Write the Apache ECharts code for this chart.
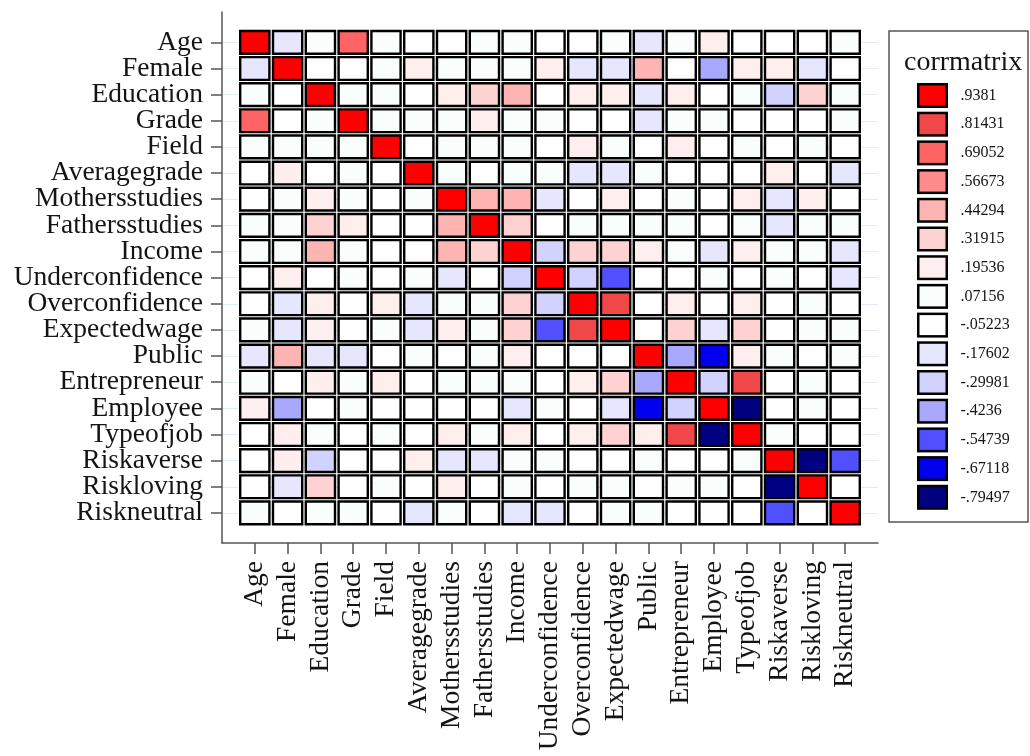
<!DOCTYPE html>
<html lang="en">

<head>
    <meta charset="UTF-8">
    <title>corrmatrix</title>
    <script src="https://cdn.jsdelivr.net/npm/echarts@6/dist/echarts.min.js"></script>
    <style>
        body { margin: 0; background: #fff; }
    </style>
</head>

<body>
    <div id="main" style="width:1030px;height:756px"></div>
    <script>
        var names = ['Age', 'Female', 'Education', 'Grade', 'Field', 'Averagegrade', 'Mothersstudies',
            'Fathersstudies', 'Income', 'Underconfidence', 'Overconfidence', 'Expectedwage', 'Public',
            'Entrepreneur', 'Employee', 'Typeofjob', 'Riskaverse', 'Riskloving', 'Riskneutral'];

        // legend bins (midpoints as printed) and their colours, top to bottom
        var binLabels = ['.9381', '.81431', '.69052', '.56673', '.44294', '.31915', '.19536', '.07156',
            '-.05223', '-.17602', '-.29981', '-.4236', '-.54739', '-.67118', '-.79497'];
        var binColors = ['#ff0000', '#f04848', '#ff6464', '#ff8c8c', '#ffb4b4', '#ffd2d2', '#ffeeee', '#f9fdfb',
            '#ffffff', '#e6e6ff', '#d2d2ff', '#a8a8ff', '#5050ff', '#0000ee', '#000080'];

        // correlation values, one row per variable
        var rowAge = [1, -0.17, 0.06, 0.69, 0.06, -0.03, -0.03, 0.06, 0.06, -0.03, -0.03, 0.06, -0.17, 0.06, 0.2, -0.03, -0.03, -0.03, 0.06];
        var rowFemale = [-0.17, 1, -0.03, -0.03, 0.06, 0.2, 0.06, 0.06, 0.06, 0.2, -0.17, -0.17, 0.44, -0.03, -0.42, 0.2, 0.2, -0.17, -0.03];
        var rowEducation = [0.06, -0.03, 1, 0.06, 0.06, -0.03, 0.2, 0.32, 0.44, -0.03, 0.2, 0.2, -0.17, 0.2, -0.03, 0.06, -0.3, 0.32, 0.06];
        var rowGrade = [0.69, -0.03, 0.06, 1, 0.06, 0.06, 0.06, 0.2, 0.06, 0.06, -0.03, -0.03, -0.17, 0.06, 0.06, -0.03, -0.03, -0.03, 0.06];
        var rowField = [0.06, 0.06, 0.06, 0.06, 1, -0.03, 0.06, 0.06, 0.06, -0.03, 0.2, 0.06, -0.03, 0.2, -0.03, 0.06, -0.03, 0.06, -0.03];
        var rowAveragegrade = [-0.03, 0.2, -0.03, 0.06, -0.03, 1, 0.06, -0.03, 0.06, 0.06, -0.17, -0.17, 0.06, -0.03, -0.03, -0.03, 0.2, -0.03, -0.17];
        var rowMothersstudies = [-0.03, 0.06, 0.2, 0.06, -0.03, 0.06, 1, 0.44, 0.44, -0.17, -0.03, 0.2, -0.03, 0.06, -0.03, 0.2, -0.17, 0.2, -0.03];
        var rowFathersstudies = [0.06, 0.06, 0.32, 0.2, -0.03, -0.03, 0.44, 1, 0.32, -0.03, 0.06, 0.06, 0.06, 0.06, -0.03, 0.06, -0.17, 0.06, 0.06];
        var rowIncome = [0.06, 0.06, 0.44, 0.06, -0.03, -0.03, 0.44, 0.32, 1, -0.3, 0.32, 0.32, 0.2, 0.06, -0.17, 0.2, 0.06, 0.06, -0.17];
        var rowUnderconfidence = [-0.03, 0.2, -0.03, 0.06, -0.03, 0.06, -0.17, -0.03, -0.3, 1, -0.3, -0.55, -0.03, -0.03, 0.06, -0.03, 0.06, -0.03, -0.17];
        var rowOverconfidence = [-0.03, -0.17, 0.2, -0.03, 0.2, -0.17, 0.06, 0.06, 0.32, -0.3, 1, 0.81, -0.03, 0.2, -0.03, 0.2, -0.03, 0.06, -0.03];
        var rowExpectedwage = [0.06, -0.17, 0.2, -0.03, 0.06, -0.17, 0.2, 0.06, 0.32, -0.55, 0.81, 1, -0.03, 0.32, -0.17, 0.32, -0.03, 0.06, 0.06];
        var rowPublic = [-0.17, 0.44, -0.17, -0.17, -0.03, 0.06, -0.03, 0.06, 0.2, -0.03, -0.03, -0.03, 1, -0.42, -0.67, 0.2, 0.06, -0.03, 0.06];
        var rowEntrepreneur = [0.06, -0.03, 0.2, 0.06, 0.2, -0.03, 0.06, 0.06, 0.06, -0.03, 0.2, 0.32, -0.42, 1, -0.3, 0.81, -0.03, 0.06, -0.03];
        var rowEmployee = [0.2, -0.42, -0.03, 0.06, -0.03, -0.03, -0.03, -0.03, -0.17, 0.06, -0.03, -0.17, -0.67, -0.3, 1, -0.79, -0.03, 0.06, -0.03];
        var rowTypeofjob = [-0.03, 0.2, 0.06, -0.03, 0.06, -0.03, 0.2, 0.06, 0.2, -0.03, 0.2, 0.32, 0.2, 0.81, -0.79, 1, 0.06, -0.03, -0.03];
        var rowRiskaverse = [-0.03, 0.2, -0.3, -0.03, -0.03, 0.2, -0.17, -0.17, 0.06, 0.06, -0.03, -0.03, 0.06, -0.03, -0.03, 0.06, 1, -0.79, -0.55];
        var rowRiskloving = [-0.03, -0.17, 0.32, -0.03, 0.06, -0.03, 0.2, -0.03, 0.06, -0.03, 0.06, 0.06, -0.03, 0.06, 0.06, -0.03, -0.79, 1, -0.03];
        var rowRiskneutral = [0.06, -0.03, 0.06, 0.06, -0.03, -0.17, 0.06, -0.03, -0.17, -0.17, -0.03, 0.06, 0.06, -0.03, -0.03, -0.03, -0.55, -0.03, 1];

        var rows = [rowAge, rowFemale, rowEducation, rowGrade, rowField, rowAveragegrade, rowMothersstudies,
            rowFathersstudies, rowIncome, rowUnderconfidence, rowOverconfidence, rowExpectedwage, rowPublic,
            rowEntrepreneur, rowEmployee, rowTypeofjob, rowRiskaverse, rowRiskloving, rowRiskneutral];

        var cells = [];
        for (var i = 0; i < rows.length; i++) {
            for (var j = 0; j < rows[i].length; j++) {
                cells.push([j, i, rows[i][j]]);
            }
        }

        var idx = names.map(function (n, k) { return k; });
        // the y labels sit tighter than their font, so split them over two stacked axes
        var evenIdx = idx.filter(function (k) { return k % 2 === 0; });
        var oddIdx = idx.filter(function (k) { return k % 2 === 1; });

        var half = (parseFloat(binLabels[0]) - parseFloat(binLabels[1])) / 2;
        var pieces = [];
        var backPieces = [];
        for (var k = 0; k < binLabels.length; k++) {
            var mid = parseFloat(binLabels[k]);
            var p = { min: mid - half, max: mid + half, label: binLabels[k], color: binColors[k] };
            if (k === 0) p.max = 2;
            if (k === binLabels.length - 1) p.min = -2;
            pieces.push(p);
            backPieces.push({ min: p.min, max: p.max, label: binLabels[k], color: '#000' });
        }

        var font = "'Liberation Serif', 'DejaVu Serif', serif";
        var axisColor = '#555';

        function renderItem(params, api) {
            var c = api.coord([api.value(0), api.value(1)]);
            var s = api.size([1, 1]);
            var w = s[0] - 3.6, h = s[1] - 3.4;
            return {
                type: 'rect',
                shape: { x: c[0] - w / 2, y: c[1] - h / 2, width: w, height: h },
                style: { fill: api.visual('color'), stroke: '#000', lineWidth: 2.4 }
            };
        }

        function yAxisFor(ticks, showLine) {
            return {
                type: 'value',
                position: 'left',
                inverse: true,
                min: -1.16,
                max: 19.15,
                axisLine: { show: showLine, onZero: false, lineStyle: { color: axisColor, width: 1.5 } },
                axisTick: { show: true, length: 11, customValues: ticks, lineStyle: { color: axisColor, width: 1.5 } },
                axisLabel: {
                    customValues: ticks,
                    margin: 19,
                    showMinLabel: true,
                    showMaxLabel: true,
                    fontFamily: font,
                    fontSize: 27.5,
                    color: '#141414',
                    formatter: function (v) { return names[v]; }
                },
                splitLine: { show: true, lineStyle: { color: '#e2ebef', width: 1.2 } }
            };
        }

        var myChart = echarts.init(document.getElementById('main'));
        var option = {
            backgroundColor: '#fff',
            animation: false,
            title: {
                text: 'corrmatrix',
                left: 904,
                top: 49,
                padding: 0,
                textStyle: { fontFamily: font, fontSize: 28, fontWeight: 'normal', color: '#141414' }
            },
            grid: { left: 222, top: 12, width: 656, height: 531 },
            xAxis: {
                type: 'value',
                min: -1,
                max: 19,
                axisLine: { show: true, onZero: false, lineStyle: { color: axisColor, width: 1.5 } },
                axisTick: { show: true, length: 11, customValues: idx, lineStyle: { color: axisColor, width: 1.5 } },
                axisLabel: {
                    customValues: idx,
                    rotate: 90,
                    margin: 18,
                    showMinLabel: true,
                    showMaxLabel: true,
                    fontFamily: font,
                    fontSize: 27.5,
                    color: '#141414',
                    formatter: function (v) { return names[v]; }
                },
                splitLine: { show: false }
            },
            yAxis: [yAxisFor(evenIdx, true), yAxisFor(oddIdx, false)],
            visualMap: [
                {
                    type: 'piecewise',
                    seriesIndex: [],
                    orient: 'vertical',
                    align: 'left',
                    itemSymbol: 'rect',
                    left: 917,
                    top: 83,
                    padding: 0,
                    itemWidth: 31,
                    itemHeight: 25,
                    itemGap: 3.7,
                    showLabel: false,
                    selectedMode: false,
                    hoverLink: false,
                    pieces: backPieces,
                    z: 4
                },
                {
                    type: 'piecewise',
                    seriesIndex: 0,
                    dimension: 2,
                    orient: 'vertical',
                    align: 'left',
                    itemSymbol: 'rect',
                    left: 919.5,
                    top: 85.5,
                    padding: 0,
                    itemWidth: 26,
                    itemHeight: 20,
                    itemGap: 8.7,
                    textGap: 15,
                    selectedMode: false,
                    hoverLink: false,
                    pieces: pieces,
                    textStyle: { fontFamily: font, fontSize: 16, color: '#141414' },
                    z: 6
                }
            ],
            graphic: [
                {
                    type: 'rect',
                    shape: { x: 889, y: 31, width: 139, height: 491 },
                    style: { fill: null, stroke: '#555', lineWidth: 1.5 },
                    silent: true
                }
            ],
            series: [
                {
                    type: 'custom',
                    renderItem: renderItem,
                    encode: { x: 0, y: 1 },
                    yAxisIndex: 0,
                    data: cells
                }
            ]
        };
        myChart.setOption(option);
    </script>
</body>

</html>
